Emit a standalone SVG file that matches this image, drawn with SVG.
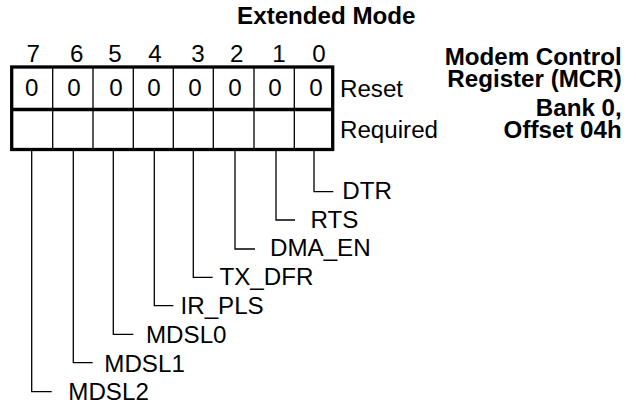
<svg xmlns="http://www.w3.org/2000/svg" width="636" height="407" viewBox="0 0 636 407">
<style>
text{font-family:"Liberation Sans",Arial,sans-serif;font-size:23px;fill:#000}
.b{font-weight:bold}
.m{text-anchor:middle}
.e{text-anchor:end}
.thick{fill:none;stroke:#000;stroke-width:3.3}
.thin{fill:none;stroke:#000;stroke-width:1.3}
</style>
<rect width="636" height="407" fill="#fff"/>
<g id="title"><text class="b m" transform="translate(326.3 24.3) scale(1.05 1)">Extended Mode</text></g>
<g id="register-name">
<text class="b e" transform="translate(621.7 65) scale(1.05 1)">Modem Control</text>
<text class="b e" transform="translate(621.7 87) scale(1.05 1)">Register (MCR)</text>
<text class="b e" transform="translate(621.7 116) scale(1.05 1)">Bank 0,</text>
<text class="b e" transform="translate(621.7 138) scale(1.05 1)">Offset 04h</text>
</g>
<g id="bit-numbers">
<text class="m" transform="translate(33.3 61.7) scale(1.05 1)">7</text>
<text class="m" transform="translate(76.7 61.7) scale(1.05 1)">6</text>
<text class="m" transform="translate(115 61.7) scale(1.05 1)">5</text>
<text class="m" transform="translate(155 61.7) scale(1.05 1)">4</text>
<text class="m" transform="translate(198 61.7) scale(1.05 1)">3</text>
<text class="m" transform="translate(236.7 61.7) scale(1.05 1)">2</text>
<text class="m" transform="translate(279 61.7) scale(1.05 1)">1</text>
<text class="m" transform="translate(319 61.7) scale(1.05 1)">0</text>
</g>
<g id="register">
<rect class="thick" x="11.7" y="67" width="321" height="82.5"/>
<line class="thick" x1="11.7" y1="109.5" x2="332.7" y2="109.5"/>
<path class="thin" d="M52.7 67V149.5M93 67V149.5M133.3 67V149.5M173.3 67V149.5M213.3 67V149.5M254 67V149.5M294.3 67V149.5"/>
<text class="m" transform="translate(31.8 95.7) scale(1.05 1)">0</text>
<text class="m" transform="translate(74 95.7) scale(1.05 1)">0</text>
<text class="m" transform="translate(116 95.7) scale(1.05 1)">0</text>
<text class="m" transform="translate(154 95.7) scale(1.05 1)">0</text>
<text class="m" transform="translate(195 95.7) scale(1.05 1)">0</text>
<text class="m" transform="translate(235 95.7) scale(1.05 1)">0</text>
<text class="m" transform="translate(275 95.7) scale(1.05 1)">0</text>
<text class="m" transform="translate(316 95.7) scale(1.05 1)">0</text>
</g>
<g id="row-labels">
<text transform="translate(340 97) scale(1.05 1)">Reset</text>
<text transform="translate(340 137.7) scale(1.05 1)">Required</text>
</g>
<g id="connectors">
<path class="thin" d="M314 151V191.7H333.3"/>
<path class="thin" d="M276 151V220H295"/>
<path class="thin" d="M235 151V249H255"/>
<path class="thin" d="M193.3 151V277.3H212.7"/>
<path class="thin" d="M154.3 151V305.7H173.3"/>
<path class="thin" d="M113.3 151V334.3H133.3"/>
<path class="thin" d="M73.3 151V362.7H92.7"/>
<path class="thin" d="M31.7 151V391.7H51.7"/>
</g>
<g id="field-DTR"><text transform="translate(342.3 198.5) scale(1.05 1)">DTR</text></g>
<g id="field-RTS"><text transform="translate(310.5 228.3) scale(1.05 1)">RTS</text></g>
<g id="field-DMA_EN"><text transform="translate(270 256) scale(1.05 1)">DMA_EN</text></g>
<g id="field-TX_DFR"><text transform="translate(219.5 285) scale(1.05 1)">TX_DFR</text></g>
<g id="field-IR_PLS"><text transform="translate(180.5 314) scale(1.05 1)">IR_PLS</text></g>
<g id="field-MDSL0"><text transform="translate(146 343) scale(1.05 1)">MDSL0</text></g>
<g id="field-MDSL1"><text transform="translate(104.3 371.5) scale(1.05 1)">MDSL1</text></g>
<g id="field-MDSL2"><text transform="translate(68.3 400.3) scale(1.05 1)">MDSL2</text></g>
</svg>
